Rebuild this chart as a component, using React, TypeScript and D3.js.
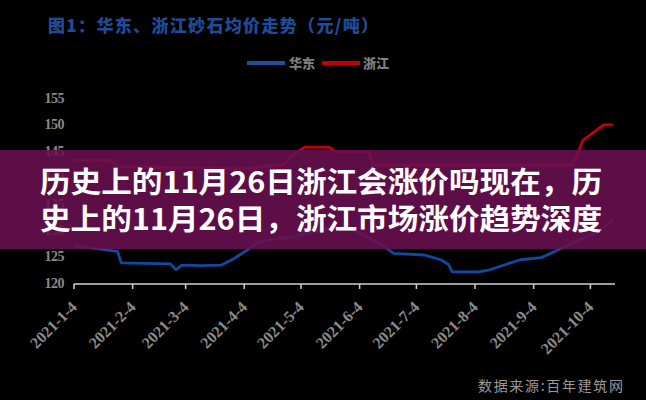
import React from "react";
import * as d3 from "d3";

const W = 646;
const H = 400;

const titleText = "图1：华东、浙江砂石均价走势（元/吨）";
const seriesNames = ["华东", "浙江"];
const overlayLines = ["历史上的11月26日浙江会涨价吗现在，历", "史上的11月26日，浙江市场涨价趋势深度"];
const sourceText = "数据来源:百年建筑网";

const yTicks = [120, 125, 130, 135, 140, 145, 150, 155];
const xTickLabels = ["2021-1-4", "2021-2-4", "2021-3-4", "2021-4-4", "2021-5-4", "2021-6-4", "2021-7-4", "2021-8-4", "2021-9-4", "2021-10-4"];
const xTickDates = ["2021-01-04", "2021-02-04", "2021-03-04", "2021-04-04", "2021-05-04", "2021-06-04", "2021-07-04", "2021-08-04", "2021-09-04", "2021-10-04"];

const eastDates = ["2021-01-04", "2021-01-11", "2021-01-18", "2021-01-27", "2021-01-29", "2021-02-10", "2021-02-24", "2021-02-27", "2021-03-02", "2021-03-12", "2021-03-23", "2021-03-29", "2021-04-05", "2021-04-12", "2021-04-16", "2021-04-30", "2021-05-14", "2021-05-27", "2021-06-04", "2021-06-16", "2021-06-22", "2021-07-08", "2021-07-17", "2021-07-21", "2021-07-23", "2021-08-06", "2021-08-12", "2021-08-21", "2021-08-28", "2021-09-08", "2021-09-16", "2021-09-25", "2021-10-07", "2021-10-16"];
const eastValues = [127.0, 126.7, 126.4, 126.0, 123.8, 123.7, 123.6, 122.5, 123.4, 123.3, 123.4, 124.5, 126.1, 127.8, 128.1, 128.7, 130.0, 130.6, 129.5, 127.1, 125.6, 125.3, 124.4, 123.5, 122.1, 122.1, 122.5, 123.6, 124.4, 124.8, 126.1, 127.6, 129.5, 131.9];

const zjDates = ["2021-01-04", "2021-01-23", "2021-01-28", "2021-03-01", "2021-04-02", "2021-04-25", "2021-04-29", "2021-05-06", "2021-05-19", "2021-05-22", "2021-06-09", "2021-06-11", "2021-09-24", "2021-09-27", "2021-09-30", "2021-10-11", "2021-10-16"];
const zjValues = [143.2, 143.2, 142.0, 141.8, 141.6, 142.4, 144.0, 145.7, 145.7, 144.8, 144.8, 142.3, 142.3, 144.2, 147.0, 149.9, 149.9];

const parse = d3.timeParse("%Y-%m-%d");

export default function App() {
  const x = d3.scaleTime().domain([parse("2021-01-04")!, parse("2021-10-17")!]).range([74, 615]);
  const y = d3.scaleLinear().domain([120, 155]).range([283, 98]);
  const line = d3
    .line<[Date, number]>()
    .x((d) => x(d[0]))
    .y((d) => y(d[1]));
  const east: [Date, number][] = eastDates.map((d, i) => [parse(d)!, eastValues[i]]);
  const zj: [Date, number][] = zjDates.map((d, i) => [parse(d)!, zjValues[i]]);
  const axisY = 284;
  const gray = "#8a8a8a";
  const serif = "'Liberation Serif', 'DejaVu Serif', serif";
  const cjk = "'Noto Sans CJK SC', sans-serif";

  return (
    <svg width={W} height={H} style={{ position: "absolute", left: 0, top: 0, display: "block" }}>
      <rect x={0} y={0} width={W} height={H} fill="#000" />
      <text x={48} y={32} fill="#1f4c98" fontFamily={cjk} fontWeight={900} fontSize={17} textLength={330} lengthAdjust="spacing">
        {titleText}
      </text>
      {/* legend */}
      <line x1={247} x2={285} y1={63} y2={63} stroke="#1f4e9a" strokeWidth={4} />
      <text x={289} y={68} fill="#7f7f7f" fontFamily={cjk} fontWeight={900} fontSize={13}>
        {seriesNames[0]}
      </text>
      <line x1={322} x2={360} y1={63} y2={63} stroke="#c00000" strokeWidth={4} />
      <text x={363} y={68} fill="#7f7f7f" fontFamily={cjk} fontWeight={900} fontSize={13}>
        {seriesNames[1]}
      </text>
      {/* y ticks */}
      {yTicks.map((t) => (
        <text key={t} x={64} y={y(t)} dy="0.35em" textAnchor="end" fill={gray} fontFamily={serif} fontWeight="bold" fontSize={14} letterSpacing={-0.5}>
          {t}
        </text>
      ))}
      {/* x axis */}
      <line x1={74} x2={615} y1={axisY} y2={axisY} stroke="#d0d0d0" strokeWidth={1.5} />
      {xTickDates.map((d, i) => {
        const xx = x(parse(d)!);
        return (
          <g key={d}>
            <line x1={xx} x2={xx} y1={axisY} y2={axisY + 5} stroke="#d0d0d0" strokeWidth={1.5} />
            <text transform={`translate(${xx + 4},${axisY + 24}) rotate(-45)`} textAnchor="end" fill={gray} fontFamily={serif} fontWeight="bold" fontSize={16}>
              {xTickLabels[i]}
            </text>
          </g>
        );
      })}
      {/* series */}
      <path d={line(east)!} fill="none" stroke="#0f4aa0" strokeWidth={2.8} strokeLinejoin="round" />
      <path d={line(zj)!} fill="none" stroke="#c00010" strokeWidth={2.8} strokeLinejoin="round" />
      {/* overlay band */}
      <rect x={0} y={150} width={W} height={99} fill="#6a1050" opacity={0.88} />
      {overlayLines.map((t, i) => (
        <text key={i} x={40} y={193 + i * 37} fill="#fff" fontFamily={cjk} fontWeight="bold" fontSize={29} textLength={562} lengthAdjust="spacingAndGlyphs">
          {t}
        </text>
      ))}
      <text x={478} y={391} fill="#9a9a9a" fontFamily={cjk} fontSize={14} textLength={145} lengthAdjust="spacing">
        {sourceText}
      </text>
    </svg>
  );
}
